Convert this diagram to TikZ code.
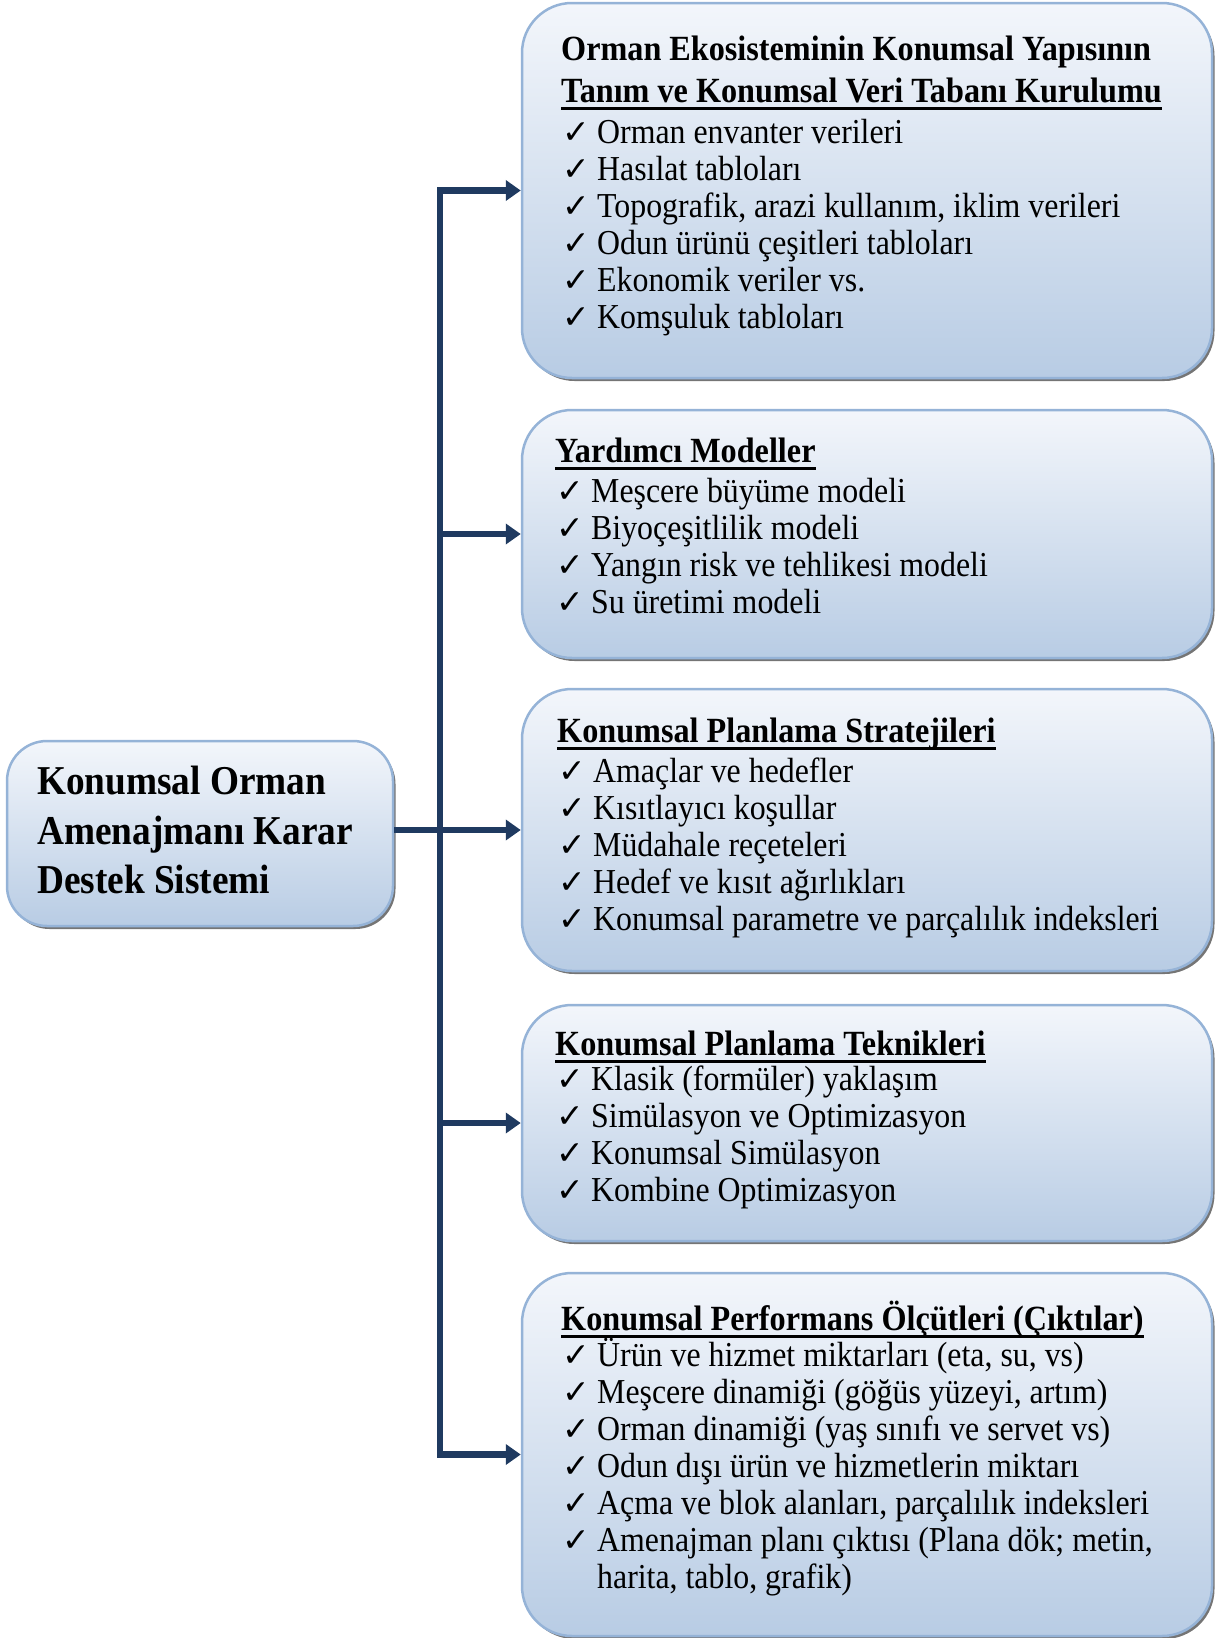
\documentclass[tikz,border=0pt]{standalone}
\usepackage{fontspec}
\setmainfont{Liberation Serif}[FakeStretch=0.91]
\newfontfamily\chkfont{DejaVu Sans}
\usetikzlibrary{arrows.meta,shadows}
\definecolor{boxtop}{HTML}{F3F6FB}
\definecolor{boxbot}{HTML}{B8CCE4}
\definecolor{boxline}{HTML}{95B3D7}
\definecolor{navy}{HTML}{1F3A60}
\tikzset{
  panel/.style={draw=boxline, line width=2.5pt, rounded corners=50pt,
    top color=boxtop, bottom color=boxbot,
    drop shadow={shadow xshift=2.5pt, shadow yshift=-3pt, fill=black!60, opacity=0.9},
    minimum width=690pt, inner sep=0pt},
  itm/.style={anchor=base west, inner sep=0pt, font=\fontsize{35}{37}\selectfont},
  ttl/.style={anchor=base west, inner sep=0pt, font=\fontsize{35.4}{42}\selectfont\bfseries},
  lbl/.style={anchor=base west, inner sep=0pt, font=\fontsize{41}{50}\selectfont\bfseries},
  chk/.style={anchor=base west, inner sep=0pt, font=\fontsize{33}{33}\chkfont},
  uline/.style={line width=3pt},
  conn/.style={draw=navy, line width=6.5pt},
  tip/.style={-{Triangle[length=15pt 0 0,width=20pt 0 0]}}
}
\begin{document}
\begin{tikzpicture}[x=1pt,y=-1pt]
\useasboundingbox (0,0) rectangle (1221,1638);
% panels
\node[panel, minimum height=375pt] (b1) at (867,190.5) {};
\node[panel, minimum height=248pt] (b2) at (867,534) {};
\node[panel, minimum height=282pt] (b3) at (867,830) {};
\node[panel, minimum height=236pt] (b4) at (867,1123) {};
\node[panel, minimum height=363pt] (b5) at (867,1454.5) {};
\node[panel, minimum width=386pt, minimum height=185pt, rounded corners=40pt] (L) at (200,833.5) {};
% left text
\node[lbl] (L1) at (37,794) {Konumsal Orman};
\node[lbl] (L2) at (37,844) {Amenajmanı Karar};
\node[lbl] (L3) at (37,893) {Destek Sistemi};
% connectors
\coordinate (sx) at (440,0);
\draw[conn, {Triangle[length=15pt 0 0,width=20pt 0 0]}-{Triangle[length=15pt 0 0,width=20pt 0 0]}]
  (b1.west) -- (b1.west -| sx) -- (b5.west -| sx) -- (b5.west);
\draw[conn, tip] (b2.west -| sx) -- (b2.west);
\draw[conn, tip] (b4.west -| sx) -- (b4.west);
\draw[conn, tip] (L.east |- b3.west) -- (b3.west);
% box 1
\node[ttl] (h1a) at (561,60.5) {Orman Ekosisteminin Konumsal Yapısının};
\node[ttl] (h1b) at (561,102) {Tanım ve Konumsal Veri Tabanı Kurulumu};
\draw[uline] ([yshift=-6pt]h1b.base west) -- ([yshift=-6pt]h1b.base east);
\foreach \t [count=\i] in {Orman envanter verileri, Hasılat tabloları,
  {Topografik, arazi kullanım, iklim verileri}, Odun ürünü çeşitleri tabloları,
  Ekonomik veriler vs., Komşuluk tabloları}{
  \node[chk] (c1\i) at (562,{143+37*(\i-1)}) {✓};
  \node[itm] (t1\i) at (597,{143+37*(\i-1)}) {\t};
}
% box 2
\node[ttl] (h2) at (555,462) {Yardımcı Modeller};
\draw[uline] ([yshift=-6pt]h2.base west) -- ([yshift=-6pt]h2.base east);
\foreach \t [count=\i] in {Meşcere büyüme modeli, Biyoçeşitlilik modeli,
  Yangın risk ve tehlikesi modeli, Su üretimi modeli}{
  \node[chk] (c2\i) at (556,{502+37.3*(\i-1)}) {✓};
  \node[itm] (t2\i) at (591,{502+37.3*(\i-1)}) {\t};
}
% box 3
\node[ttl] (h3) at (557,742) {Konumsal Planlama Stratejileri};
\draw[uline] ([yshift=-6pt]h3.base west) -- ([yshift=-6pt]h3.base east);
\foreach \t [count=\i] in {Amaçlar ve hedefler, Kısıtlayıcı koşullar,
  Müdahale reçeteleri, Hedef ve kısıt ağırlıkları,
  Konumsal parametre ve parçalılık indeksleri}{
  \node[chk] (c3\i) at (558,{782+37*(\i-1)}) {✓};
  \node[itm] (t3\i) at (593,{782+37*(\i-1)}) {\t};
}
% box 4
\node[ttl] (h4) at (555,1055) {Konumsal Planlama Teknikleri};
\draw[uline] ([yshift=-6pt]h4.base west) -- ([yshift=-6pt]h4.base east);
\foreach \t [count=\i] in {Klasik (formüler) yaklaşım, Simülasyon ve Optimizasyon,
  Konumsal Simülasyon, Kombine Optimizasyon}{
  \node[chk] (c4\i) at (556,{1090.5+37*(\i-1)}) {✓};
  \node[itm] (t4\i) at (591,{1090.5+37*(\i-1)}) {\t};
}
% box 5
\node[ttl] (h5) at (561,1330) {Konumsal Performans Ölçütleri (Çıktılar)};
\draw[uline] ([yshift=-6pt]h5.base west) -- ([yshift=-6pt]h5.base east);
\foreach \t [count=\i] in {{Ürün ve hizmet miktarları (eta, su, vs)},
  {Meşcere dinamiği (göğüs yüzeyi, artım)},
  {Orman dinamiği (yaş sınıfı ve servet vs)},
  Odun dışı ürün ve hizmetlerin miktarı,
  {Açma ve blok alanları, parçalılık indeksleri},
  {Amenajman planı çıktısı (Plana dök; metin,}}{
  \node[chk] (c5\i) at (562,{1366+37*(\i-1)}) {✓};
  \node[itm] (t5\i) at (597,{1366+37*(\i-1)}) {\t};
}
\node[itm] (t57) at (597,1588) {harita, tablo, grafik)};
\end{tikzpicture}
\end{document}
